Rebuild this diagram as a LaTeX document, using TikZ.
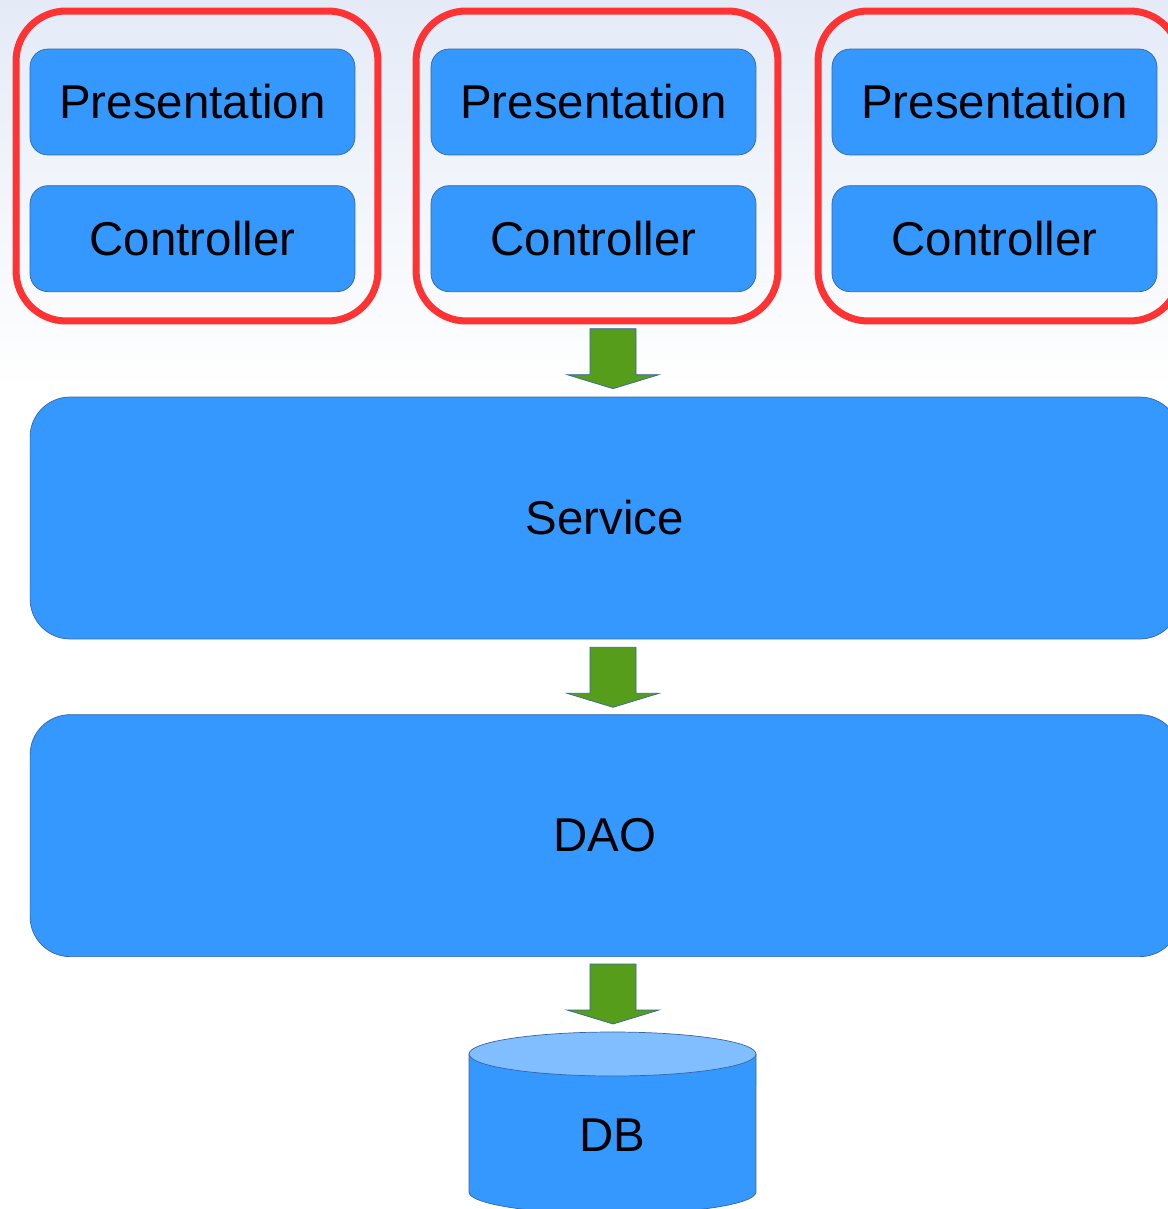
\documentclass[tikz,border=0pt]{standalone}
\usepackage{fontspec}
\setmainfont{Liberation Sans}
\usepackage{tikz}
\usetikzlibrary{positioning,calc}
\definecolor{layerblue}{RGB}{53,152,255}
\definecolor{edgeblue}{RGB}{52,101,164}
\definecolor{topblue}{RGB}{129,190,255}
\definecolor{framered}{RGB}{255,51,51}
\definecolor{arrowgreen}{RGB}{87,157,28}
\definecolor{bgtop}{RGB}{228,235,247}
\tikzstyle{layer} = [rectangle, rounded corners=0.36cm, minimum width=6.5cm, minimum height=2.12cm, text centered, draw=edgeblue, fill=layerblue, line width=0.4pt, font=\fontsize{27}{32}\selectfont]
\tikzstyle{widelayer} = [layer, rounded corners=0.8cm, minimum width=23cm, minimum height=4.84cm]
\tikzstyle{moduleframe} = [rectangle, rounded corners=1cm, minimum width=7.24cm, minimum height=6.2cm, draw=framered, line width=4pt]
\tikzstyle{blockarrow} = [fill=arrowgreen, draw=edgeblue, line width=0.4pt]
\tikzstyle{dblabel} = [font=\fontsize{27}{32}\selectfont]
\newcommand{\greenarrow}[1]{\draw[blockarrow] (#1) -- ++(-46,14) -- ++(23,0) -- ++(0,46) -- ++(46,0) -- ++(0,-46) -- ++(23,0) -- cycle;}

\begin{document}
\begin{tikzpicture}[x=0.02cm, y=0.02cm]
\useasboundingbox (0,0) rectangle (1168,-1209);
% Background
\fill[white] (0,0) rectangle (1168,-1209);
\shade[top color=bgtop, bottom color=white] (0,0) rectangle (1168,-390);

% Modules
\node[moduleframe] (frame1) at (197,-166) {};
\node[moduleframe] (frame2) at (597,-166) {};
\node[moduleframe] (frame3) at (999,-166) {};

\node[layer] (pres1) at (192.5,-102) {Presentation};
\node[layer, below=0.6cm of pres1] (ctrl1) {Controller};
\node[layer] (pres2) at (593.5,-102) {Presentation};
\node[layer, below=0.6cm of pres2] (ctrl2) {Controller};
\node[layer] (pres3) at (994.5,-102) {Presentation};
\node[layer, below=0.6cm of pres3] (ctrl3) {Controller};

% Service and DAO
\node[widelayer] (service) at (605,-518) {Service};
\node[widelayer, below=1.5cm of service] (dao) {DAO};

% DB
\fill[layerblue, draw=edgeblue, line width=0.4pt] (469,-1054) -- (469,-1192) arc[start angle=180, end angle=360, x radius=2.87cm, y radius=0.44cm] -- (756,-1054) -- cycle;
\filldraw[fill=topblue, draw=edgeblue, line width=0.4pt] (612.5,-1054) ellipse [x radius=2.87cm, y radius=0.44cm];
\node[dblabel] (db) at (612.5,-1135) {DB};
\coordinate (dbtop) at (612.5,-1032);

% Arrows
\greenarrow{$(service.north)+(8,8)$}
\greenarrow{$(dao.north)+(8,7)$}
\greenarrow{$(dbtop)+(0.5,8)$}
\end{tikzpicture}
\end{document}
